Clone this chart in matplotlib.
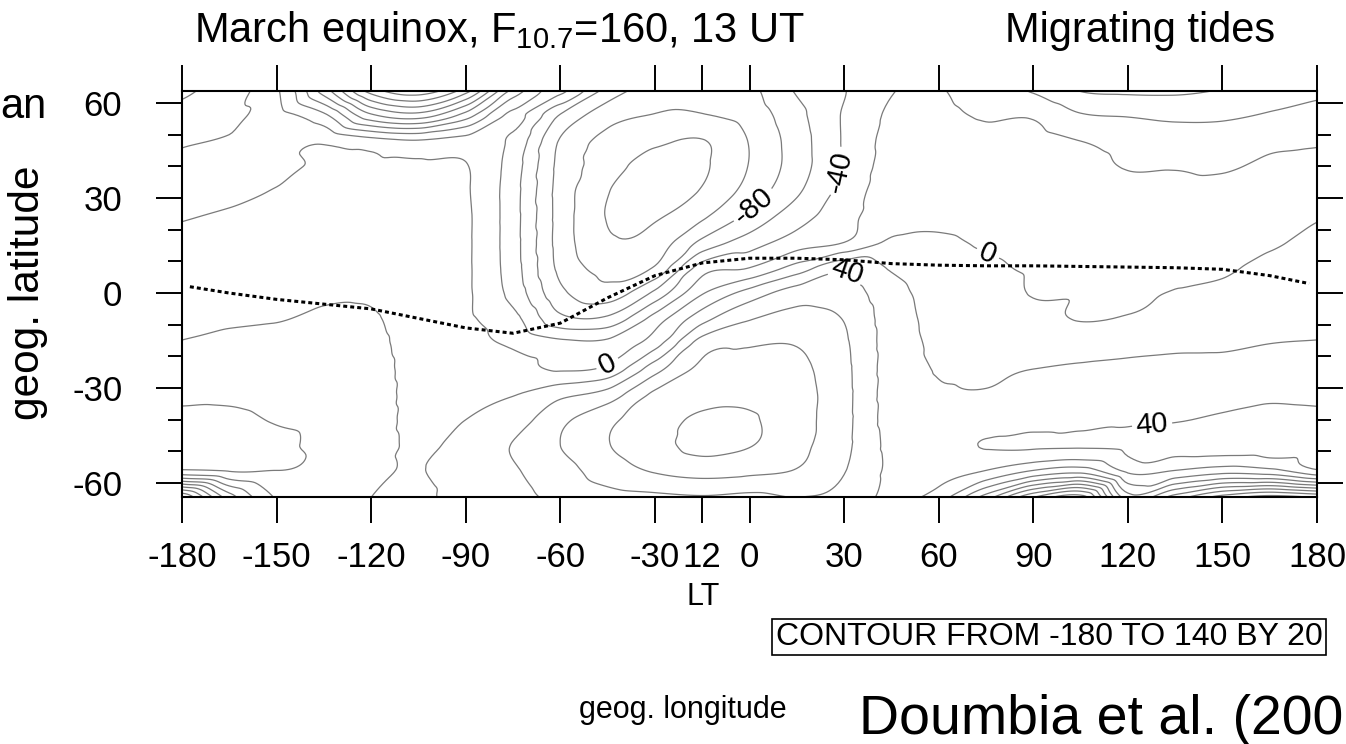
import numpy as np
import matplotlib
matplotlib.use("Agg")
import matplotlib.pyplot as plt
import matplotlib.tri as mtri
from matplotlib import font_manager
from matplotlib.ticker import MultipleLocator, NullLocator

plt.rcParams["font.family"] = ["Liberation Sans", "DejaVu Sans"]
plt.rcParams["mathtext.default"] = "regular"

try:
    font_manager.findfont(font_manager.FontProperties(family="Liberation Sans Narrow"),
                          fallback_to_default=False)
    NARROW = True
except ValueError:
    NARROW = False

# grid of the field (rows north -> south)
lon_grid = [-180, -165, -150, -135, -120, -105, -90, -75, -60, -45, -30, -15, 0,
            15, 30, 45, 60, 75, 90, 105, 120, 135, 150, 165, 180]
lat_grid = [64, 56, 48, 40, 32, 24, 16, 8, 0, -8, -16, -24, -32, -40, -48, -56, -64.5]
field = [
    [-45, -30, -18, -90, -170, -195, -150, -55, -15, -67, -90, -95, -85, -58, -41, -21, -19, -30, -42, -61, -64, -64, -59, -50, -45],
    [-32, -26, -14, -35, -95, -110, -70, -15, -62, -92, -101, -101, -92, -66, -38, -17, -16, -22, -22, -38, -41, -44, -43, -38, -32],
    [-22, -18, -10, -3, -12, -18, -12, -25, -82, -106, -116, -121, -99, -70, -38, -14, -13, -15, -14, -20, -26, -30, -30, -24, -22],
    [-15, -10, -5, 3, 4, 3, 1, -30, -86, -110, -130, -123, -99, -70, -38, -12, -11, -11, -10, -14, -21, -21, -22, -17, -15],
    [-7, -4, 1, 6, 7, 6, 2, -32, -88, -119, -133, -118, -92, -63, -33, -9, -8, -8, -8, -10, -15, -16, -15, -11, -7],
    [-1, 2, 5, 9, 9, 8, 3, -32, -88, -121, -122, -103, -74, -48, -28, -5, -4, -5, -6, -7, -10, -11, -9, -5, -1],
    [4, 6, 8, 11, 11, 9, 3, -32, -88, -117, -112, -75, -50, -30, -20, 3, 3, -2, -4, -5, -6, -6, -5, -2, 4],
    [8, 9, 11, 14, 14, 10, 3, -31, -85, -106, -98, -30, -20, 8, 36, 18, 10, 3, -2, -3, -3, -2, -2, 4, 8],
    [11, 12, 14, 18, 18, 11, 3, -27, -75, -92, -55, -2, 28, 50, 50, 27, 13, 10, -1, -1, -1.5, 0.5, 3, 8, 11],
    [15, 17, 19, 22, 21.5, 12, 3, -14, -55, -56, -12, 32, 58, 66, 59, 30, 15, 13, 6, -1, 1, 5, 9, 13, 15],
    [21, 25, 25, 26, 24, 13, 6, -3, -14, -14, 12, 70, 78, 79, 63, 31, 17, 16, 14, 12, 14, 16, 17, 20, 21],
    [28, 31, 30, 30, 26, 14, 10, 8, -2, 5, 52, 85, 88, 85, 65, 31, 19, 18.5, 20, 22, 24, 26, 26, 28, 28],
    [36, 37, 35, 33, 27, 15, 16, 19, 35, 48, 84, 93, 95, 88, 66, 31, 22, 21, 25, 25, 31, 33, 35, 37, 36],
    [44, 43, 39, 36, 27, 16, 20, 30, 55, 75, 92, 103, 102, 88, 66, 32, 28, 30, 32, 32, 37, 39, 42, 45, 44],
    [46, 47, 43, 36, 26, 18, 25, 41, 60, 79, 93, 106, 101, 86, 65, 35, 33, 41, 43, 43, 44, 47, 50, 50, 46],
    [38, 42, 40, 34, 23, 19.5, 27, 38, 52, 70, 82, 88, 85, 79, 61, 36, 28, 20, 0, -10, 25, 20, 10, 15, 38],
    [-120, -30, 22, 30, 20, 17, 27, 34, 45, 52, 55, 58, 55, 60, 55, 32, 10, -50, -120, -150, -30, -70, -110, -130, -120],
]
levels = list(range(-180, 141, 20))

# dip (magnetic) equator
dip_lon = [-177.5, -165, -150, -135, -120, -105, -90, -75, -60, -45, -30, -15, 0,
           15, 30, 45, 60, 75, 90, 105, 120, 135, 150, 165, 177.5]
dip_lat = [2, 0, -2, -3.5, -5, -8, -11, -12.7, -9.5, -1.5, 5.5, 9.5, 11,
           11, 10.5, 9.3, 8.8, 8.6, 8.6, 8.4, 8.2, 8, 7.5, 5.5, 3]

xtick_pos = [-180, -150, -120, -90, -60, -30, -15, 0, 30, 60, 90, 120, 150, 180]
xtick_lab = ["-180", "-150", "-120", "-90", "-60", "-30", "12", "0", "30", "60", "90", "120", "150", "180"]
ytick_pos = [-60, -30, 0, 30, 60]
ytick_lab = ["-60", "-30", "0", "30", "60"]

# where the few contour labels sit
label_spots = [(1, 28), (30, 38), (-45, -22.5), (31, 6), (75, 11), (128, -45.5)]

W, H = 1346, 744
fig = plt.figure(figsize=(W / 100, H / 100), dpi=100)
ax = fig.add_axes([182 / W, 1 - 497 / H, (1317 - 182) / W, (497 - 91) / H])

lon2d, lat2d = np.meshgrid(lon_grid, lat_grid[::-1])
z = np.array(field[::-1], dtype=float).ravel()
ncol = len(lon_grid)
tris = []
for i in range(len(lat_grid) - 1):
    for j in range(ncol - 1):
        k = i * ncol + j
        tris.append([k, k + 1, k + ncol + 1])
        tris.append([k, k + ncol + 1, k + ncol])
tri = mtri.Triangulation(lon2d.ravel(), lat2d.ravel(), np.array(tris))
interp = mtri.CubicTriInterpolator(tri, z, kind="geom")
tri_f, z_f = mtri.UniformTriRefiner(tri).refine_field(z, triinterpolator=interp, subdiv=4)

cs = ax.tricontour(tri_f, z_f, levels=levels, colors="#7a7a7a", linewidths=0.9,
                   linestyles="solid")
ax.clabel(cs, manual=label_spots, fmt="%d", fontsize=21, inline=True, inline_spacing=4,
          colors="black")

ax.plot(dip_lon, dip_lat, color="black", lw=2.2, linestyle=(0, (1.3, 1.0)))

ax.set_xlim(-180, 180)
ax.set_ylim(-64.4, 63.8)
ax.set_xticks(xtick_pos)
ax.set_xticklabels(xtick_lab)
ax.set_yticks(ytick_pos)
ax.set_yticklabels(ytick_lab)
ax.xaxis.set_minor_locator(NullLocator())
ax.yaxis.set_minor_locator(MultipleLocator(10))
ax.tick_params(which="major", direction="out", length=19, width=1.4, labelsize=25,
               top=True, right=True, labeltop=False, labelright=False)
ax.tick_params(axis="x", pad=13)
ax.tick_params(axis="y", pad=24)
ax.tick_params(which="minor", direction="out", length=10, width=1.4, left=True, right=True)
for s in ax.spines.values():
    s.set_linewidth(1.5)


def ftext(x, y, s, **kw):
    return fig.text(x / W, 1 - y / H, s, **kw)


narrow = ["Liberation Sans Narrow"] if NARROW else ["Liberation Sans"]
shrink = 1.0 if not NARROW else 1.2

ftext(194, 42, "March equinox, F$_{10.7}$=160, 13 UT", fontsize=30, va="baseline")
ftext(1005, 42, "Migrating tides", fontsize=30, va="baseline")
ftext(0, 118, "an", fontsize=30, va="baseline")
ftext(28, 293, "geog. latitude", fontsize=30.5, rotation=90, ha="center", va="center")
ftext(703, 597, "LT", fontsize=22, ha="center", va="center")
ftext(1049, 637, "CONTOUR FROM -180 TO 140 BY 20", fontsize=23, ha="center", va="center",
      bbox=dict(boxstyle="square,pad=0.1", fc="white", ec="black", lw=1.2))
ftext(683, 710, "geog. longitude", fontsize=22 * shrink, ha="center", va="center",
      family=narrow)
ftext(1343, 734, "Doumbia et al. (200", fontsize=40, ha="right", va="baseline")

fig.savefig("out.png", dpi=100)
